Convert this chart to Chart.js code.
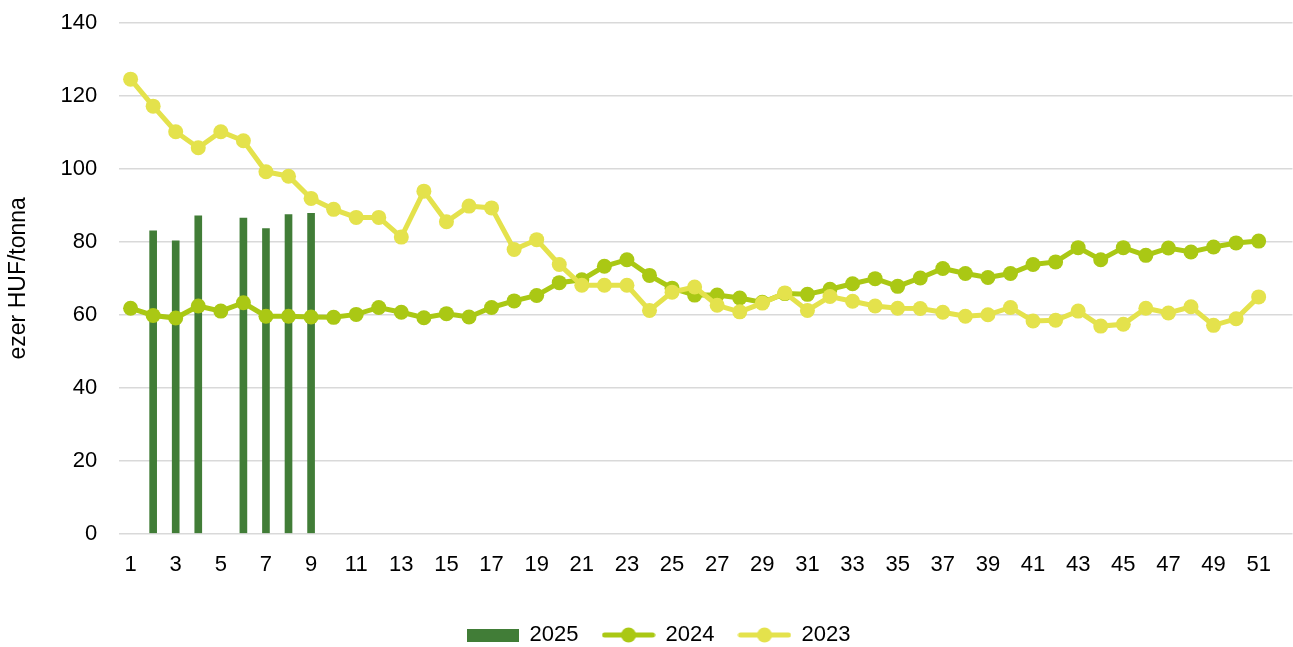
<!DOCTYPE html>
<html>
<head>
<meta charset="utf-8">
<script src="https://cdn.jsdelivr.net/npm/chart.js@4/dist/chart.umd.min.js"></script>
<style>
  html, body { margin: 0; padding: 0; background: #fff; overflow: hidden; }
  /* a little wider than the window: the point overflow margin on the right falls off-screen */
  #wrap { width: 1300px; height: 647px; position: relative; }
</style>
</head>
<body>
<div id="wrap"><canvas id="priceChart"></canvas></div>
<script>
// weeks on the x axis (52 slots, the last one unlabeled)
const weeks = ["1","2","3","4","5","6","7","8","9","10","11","12","13","14","15","16","17","18","19","20",
  "21","22","23","24","25","26","27","28","29","30","31","32","33","34","35","36","37","38","39","40",
  "41","42","43","44","45","46","47","48","49","50","51","52"];

// ezer HUF/tonna
const values2025 = [null, 83.0, 80.3, 87.1, null, 86.5, 83.6, 87.5, 87.8];

const values2024 = [61.8, 59.8, 59.1, 62.4, 61.0, 63.3, 59.6, 59.6, 59.4, 59.3,
  60.1, 62.0, 60.7, 59.2, 60.3, 59.4, 62.0, 63.8, 65.3, 68.8,
  69.6, 73.3, 75.1, 70.8, 67.3, 65.4, 65.4, 64.6, 63.4, 65.8,
  65.6, 67.0, 68.5, 69.9, 67.8, 70.1, 72.7, 71.3, 70.2, 71.3,
  73.8, 74.5, 78.4, 75.1, 78.4, 76.3, 78.3, 77.2, 78.6, 79.7, 80.2];

const values2023 = [124.6, 117.2, 110.2, 105.8, 110.2, 107.7, 99.2, 98.0, 91.9, 88.9,
  86.7, 86.7, 81.3, 93.9, 85.5, 89.8, 89.3, 77.9, 80.6, 73.8,
  68.1, 68.1, 68.1, 61.2, 66.2, 67.6, 62.6, 60.8, 63.2, 66.0,
  61.2, 65.0, 63.7, 62.4, 61.8, 61.7, 60.7, 59.6, 60.0, 62.0,
  58.3, 58.5, 61.0, 56.9, 57.4, 61.8, 60.5, 62.2, 57.1, 58.9, 64.9];

const yTicks = [0, 20, 40, 60, 80, 100, 120, 140];

const c2025 = "#417d37";
const c2024 = "#aac814";
const c2023 = "#e4e24c";

// small pictures for the legend swatches
function barSwatch(color) {
  const c = document.createElement("canvas");
  c.width = 52; c.height = 13;
  const g = c.getContext("2d");
  g.fillStyle = color;
  g.fillRect(0, 0, 52, 13);
  return c;
}
function lineSwatch(color) {
  const c = document.createElement("canvas");
  c.width = 54; c.height = 16;
  const g = c.getContext("2d");
  g.strokeStyle = color;
  g.lineWidth = 5;
  g.lineCap = "round";
  g.beginPath(); g.moveTo(3, 8); g.lineTo(51, 8); g.stroke();
  g.fillStyle = color;
  g.beginPath(); g.arc(27, 8, 7.5, 0, Math.PI * 2); g.fill();
  return c;
}

// nudge the legend a bit to the right, like the original
const legendShift = {
  id: "legendShift",
  afterLayout(chart) {
    chart.legend.left += 6;
    chart.legend.right += 6;
  }
};

Chart.defaults.font.family = "'Liberation Sans', Arial, sans-serif";
Chart.defaults.color = "#000";

const ctx = document.getElementById("priceChart").getContext("2d");
new Chart(ctx, {
  type: "bar",
  data: {
    labels: weeks,
    datasets: [
      {
        label: "2025",
        data: values2025,
        backgroundColor: c2025,
        barThickness: 7,
        order: 3
      },
      {
        type: "line",
        label: "2024",
        data: values2024,
        borderColor: c2024,
        backgroundColor: c2024,
        borderWidth: 5,
        pointRadius: 7.5,
        pointHoverRadius: 7.5,
        pointBorderWidth: 0,
        tension: 0,
        order: 2
      },
      {
        type: "line",
        label: "2023",
        data: values2023,
        borderColor: c2023,
        backgroundColor: c2023,
        borderWidth: 5,
        pointRadius: 7.5,
        pointHoverRadius: 7.5,
        pointBorderWidth: 0,
        tension: 0,
        order: 1
      }
    ]
  },
  plugins: [legendShift],
  options: {
    responsive: true,
    maintainAspectRatio: false,
    animation: false,
    layout: { padding: { top: 23, right: 0, left: 5, bottom: -9 } },
    plugins: {
      tooltip: { enabled: false },
      legend: {
        position: "bottom",
        labels: {
          font: { size: 22 },
          color: "#000",
          usePointStyle: true,
          pointStyleWidth: 52,
          boxHeight: 13,
          padding: 24,
          generateLabels: () => [
            { text: "2025", pointStyle: barSwatch(c2025), fillStyle: c2025, strokeStyle: c2025, lineWidth: 0, datasetIndex: 0 },
            { text: "2024", pointStyle: lineSwatch(c2024), fillStyle: c2024, strokeStyle: c2024, lineWidth: 0, datasetIndex: 1 },
            { text: "2023", pointStyle: lineSwatch(c2023), fillStyle: c2023, strokeStyle: c2023, lineWidth: 0, datasetIndex: 2 }
          ]
        }
      }
    },
    scales: {
      x: {
        grid: { display: false },
        border: { display: false },
        afterFit: axis => {
          axis.height += 12;
          axis.paddingLeft = 0;
          axis.paddingRight = 0;
        },
        ticks: {
          autoSkip: false,
          maxRotation: 0,
          padding: 10,
          font: { size: 22 },
          color: "#000",
          callback: function (val, i) { return (i % 2 === 0 && i < 51) ? weeks[i] : ""; }
        }
      },
      y: {
        min: 0,
        max: 140,
        afterBuildTicks: axis => { axis.ticks = yTicks.map(v => ({ value: v })); },
        afterFit: axis => {
          axis.paddingTop = 0;
          axis.paddingBottom = 0;
        },
        grid: { color: "#d9d9d9", lineWidth: 1.5, drawTicks: false },
        border: { display: false },
        ticks: { padding: 22, font: { size: 22 }, color: "#000" },
        title: {
          display: true,
          text: "ezer HUF/tonna",
          font: { size: 23 },
          color: "#000",
          padding: { top: 0, bottom: 6 }
        }
      }
    }
  }
});
</script>
</body>
</html>
